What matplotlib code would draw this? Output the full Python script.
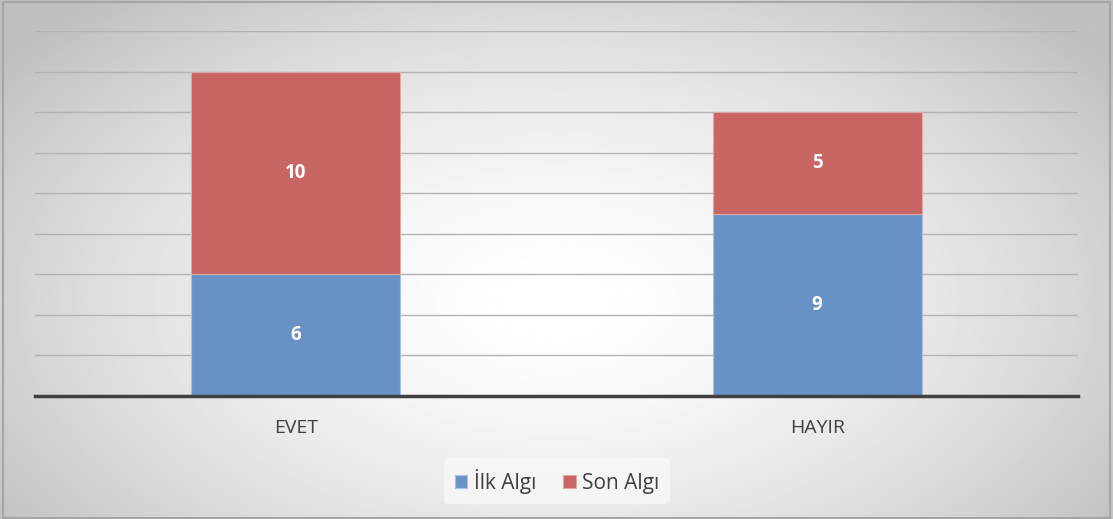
import numpy as np
import matplotlib.pyplot as plt
from matplotlib.patches import Rectangle

categories = ["EVET", "HAYIR"]
ilk_algi = [6, 9]
son_algi = [10, 5]
series_names = ["İlk Algı", "Son Algı"]

plt.rcParams['font.family'] = ['Open Sans', 'DejaVu Sans']

fig = plt.figure(figsize=(11.13, 5.19), dpi=100)

# radial grey-to-white background across the whole figure
bg = fig.add_axes([0, 0, 1, 1], zorder=-10)
yy, xx = np.mgrid[0:1:300j, 0:1:600j]
r = np.sqrt(((xx - 0.5) / 0.62) ** 2 + ((yy - 0.42) / 0.78) ** 2)
shade = 1.0 - 0.25 * np.clip(r, 0, 1) ** 1.6
bg.imshow(shade, cmap='gray', vmin=0, vmax=1, extent=[0, 1, 0, 1],
          aspect='auto', origin='lower')
bg.set_xlim(0, 1)
bg.set_ylim(0, 1)
bg.axis('off')
bg.add_patch(Rectangle((0.003, 0.002), 0.994, 0.994, fill=False,
                       edgecolor='#a6a6a6', linewidth=1.5))

ax = fig.add_axes([35 / 1113, 1 - 396 / 519, (1078 - 35) / 1113, (396 - 31) / 519])
ax.patch.set_alpha(0)

x = np.arange(len(categories))
width = 0.4
blue = '#6892c6'
red = '#c86663'
b1 = ax.bar(x, ilk_algi, width, color=blue, edgecolor='#a9c0e0',
            linewidth=0.8, label=series_names[0], zorder=3)
b2 = ax.bar(x, son_algi, width, bottom=ilk_algi, color=red, edgecolor='#e0a9a7',
            linewidth=0.8, label=series_names[1], zorder=3)

for bars, vals, bottoms in [(b1, ilk_algi, [0, 0]), (b2, son_algi, ilk_algi)]:
    for rect, v, b in zip(bars, vals, bottoms):
        ax.text(rect.get_x() + rect.get_width() / 2, b + v / 2, str(v),
                ha='center', va='center', color='white', fontsize=13.5,
                fontweight='bold', zorder=4)

ax.set_xlim(-0.5, 1.5)
ax.set_ylim(0, 18)
ax.set_yticks(np.arange(0, 19, 2))
ax.yaxis.grid(True, color='#b3b3b3', linewidth=1.0, zorder=0)
ax.tick_params(axis='y', left=False, labelleft=False)
ax.tick_params(axis='x', bottom=False, labelsize=14, labelcolor='#404040', pad=13)
ax.set_xticks(x)
ax.set_xticklabels(categories)
for s in ['top', 'right', 'left']:
    ax.spines[s].set_visible(False)
ax.spines['bottom'].set_color('#404040')
ax.spines['bottom'].set_linewidth(2.5)
ax.spines['bottom'].set_zorder(5)

leg = fig.legend(handles=[b1, b2], loc='center', bbox_to_anchor=(557 / 1113, 1 - 481 / 519),
                 ncol=2, frameon=True, fontsize=15, handlelength=0.6, handleheight=0.6,
                 handletextpad=0.3, columnspacing=1.3, borderpad=0.5)
leg.get_frame().set_facecolor('#f8f8f8')
leg.get_frame().set_edgecolor('none')
leg.get_frame().set_alpha(0.8)
for t in leg.get_texts():
    t.set_color('#404040')

fig.savefig('out.png', dpi=100)
